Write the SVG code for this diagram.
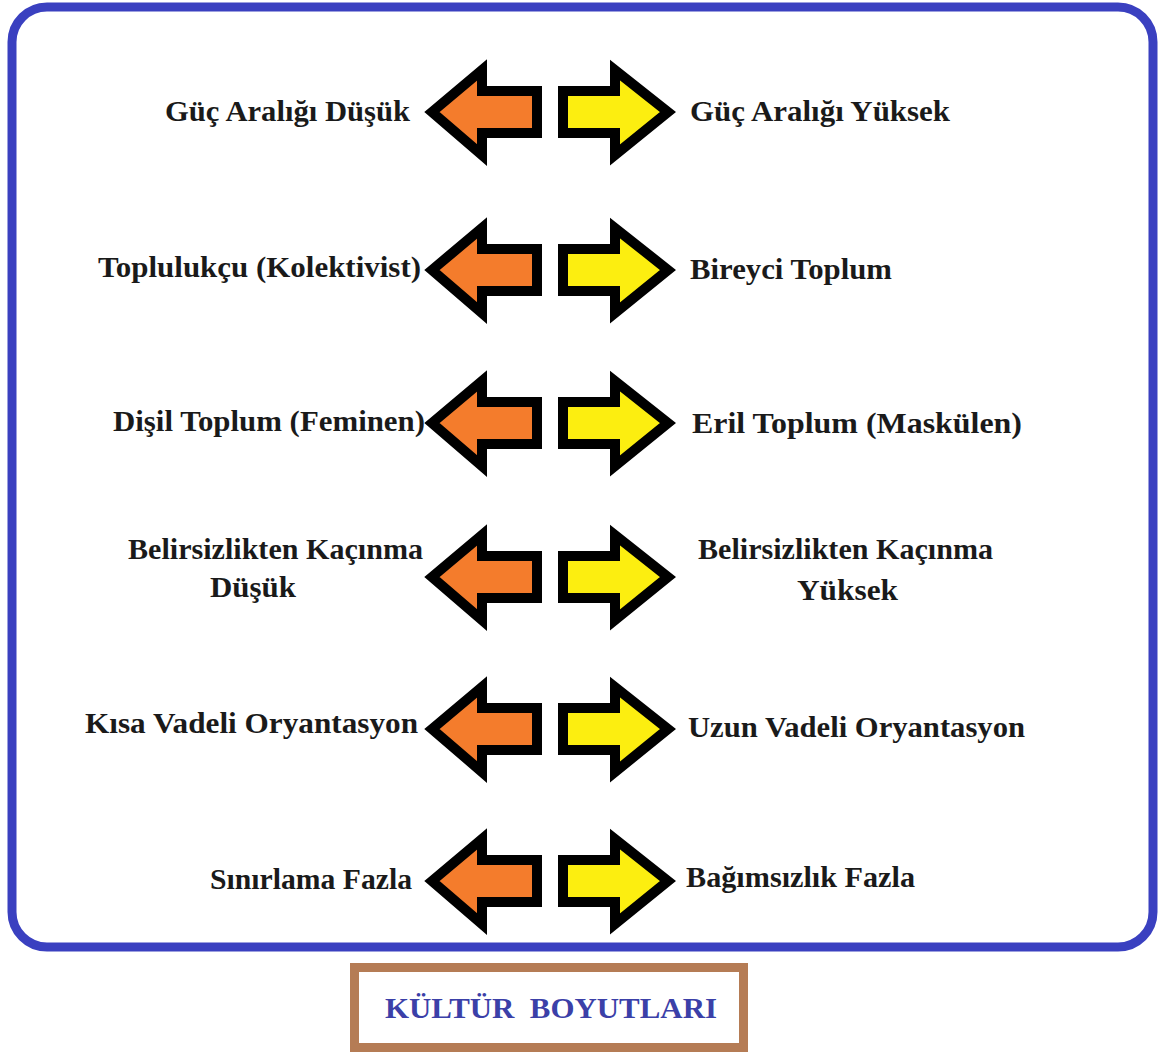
<svg xmlns="http://www.w3.org/2000/svg" width="1161" height="1054" viewBox="0 0 1161 1054">
<defs>
<style>
.lbl{font-family:"Liberation Serif","Times New Roman",serif;font-weight:bold;font-size:29px;fill:#1a1a1a}
.ttl{font-family:"Liberation Serif","Times New Roman",serif;font-weight:bold;font-size:29px;fill:#3b40a8}
.la{fill:#f47c2c;stroke:#000;stroke-width:10;stroke-linejoin:miter;stroke-miterlimit:4}
.ra{fill:#fcee10;stroke:#000;stroke-width:10;stroke-linejoin:miter;stroke-miterlimit:4}
</style>
<path id="left" class="la" d="M432,0 L482,-42 L482,-21 L537,-21 L537,21 L482,21 L482,43 Z"/>
<path id="right" class="ra" d="M563,-21 L615,-21 L615,-42 L668,0 L615,43 L615,21 L563,21 Z"/>
</defs>
<rect x="0" y="0" width="1161" height="1054" fill="#fff"/>
<rect id="frame" x="12" y="7" width="1141" height="940" rx="35" ry="35" fill="none" stroke="#3a40c0" stroke-width="9"/>
<g id="connectors">
<use href="#left" transform="translate(0,112)"/>
<use href="#right" transform="translate(0,112)"/>
<use href="#left" transform="translate(0,270)"/>
<use href="#right" transform="translate(0,270)"/>
<use href="#left" transform="translate(0,423)"/>
<use href="#right" transform="translate(0,423)"/>
<use href="#left" transform="translate(0,577)"/>
<use href="#right" transform="translate(0,577)"/>
<use href="#left" transform="translate(0,729)"/>
<use href="#right" transform="translate(0,729)"/>
<use href="#left" transform="translate(0,881)"/>
<use href="#right" transform="translate(0,881)"/>
</g>
<g id="n1l"><text class="lbl" x="165" y="121" textLength="245" lengthAdjust="spacingAndGlyphs">Güç Aralığı Düşük</text></g>
<g id="n1r"><text class="lbl" x="690" y="121" textLength="260" lengthAdjust="spacingAndGlyphs">Güç Aralığı Yüksek</text></g>
<g id="n2l"><text class="lbl" x="98" y="277" textLength="323" lengthAdjust="spacingAndGlyphs">Toplulukçu (Kolektivist)</text></g>
<g id="n2r"><text class="lbl" x="690" y="279" textLength="202" lengthAdjust="spacingAndGlyphs">Bireyci Toplum</text></g>
<g id="n3l"><text class="lbl" x="113" y="431" textLength="312" lengthAdjust="spacingAndGlyphs">Dişil Toplum (Feminen)</text></g>
<g id="n3r"><text class="lbl" x="692" y="433" textLength="330" lengthAdjust="spacingAndGlyphs">Eril Toplum (Maskülen)</text></g>
<g id="n4l"><text class="lbl" x="128" y="559" textLength="295" lengthAdjust="spacingAndGlyphs">Belirsizlikten Kaçınma</text><text class="lbl" x="210" y="597" textLength="86" lengthAdjust="spacingAndGlyphs">Düşük</text></g>
<g id="n4r"><text class="lbl" x="698" y="559" textLength="295" lengthAdjust="spacingAndGlyphs">Belirsizlikten Kaçınma</text><text class="lbl" x="797" y="600" textLength="101" lengthAdjust="spacingAndGlyphs">Yüksek</text></g>
<g id="n5l"><text class="lbl" x="85" y="733" textLength="333" lengthAdjust="spacingAndGlyphs">Kısa Vadeli Oryantasyon</text></g>
<g id="n5r"><text class="lbl" x="688" y="737" textLength="337" lengthAdjust="spacingAndGlyphs">Uzun Vadeli Oryantasyon</text></g>
<g id="n6l"><text class="lbl" x="210" y="889" textLength="202" lengthAdjust="spacingAndGlyphs">Sınırlama Fazla</text></g>
<g id="n6r"><text class="lbl" x="686" y="887" textLength="229" lengthAdjust="spacingAndGlyphs">Bağımsızlık Fazla</text></g>
<g id="title">
<rect x="354.5" y="967.5" width="389" height="80" fill="#fff" stroke="#b57c55" stroke-width="9"/>
<text class="ttl" x="385" y="1018" textLength="332" lengthAdjust="spacingAndGlyphs" xml:space="preserve">KÜLTÜR  BOYUTLARI</text>
</g>
</svg>
